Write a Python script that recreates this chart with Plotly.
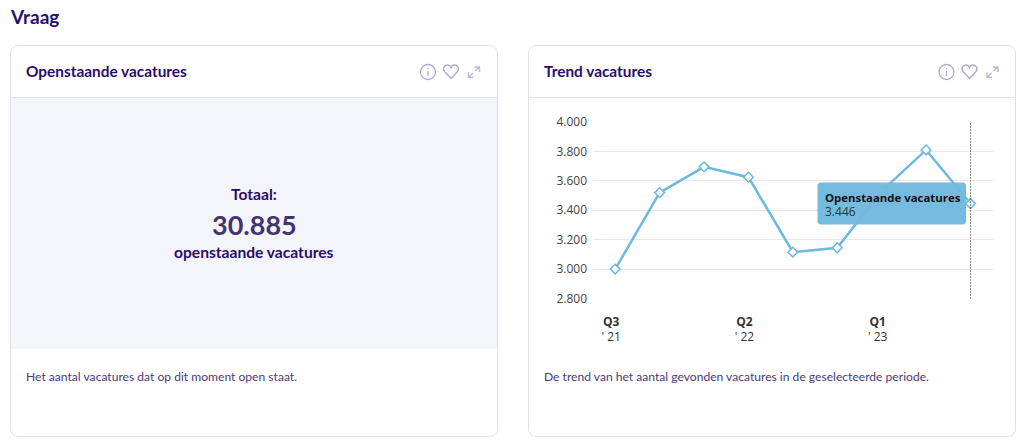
import plotly.graph_objects as go

W, H = 1024, 447

# one point per quarter
quarters = ["Q3 '21", "Q4 '21", "Q1 '22", "Q2 '22", "Q3 '22", "Q4 '22", "Q1 '23", "Q2 '23", "Q3 '23"]
vacatures = [3000, 3520, 3695, 3625, 3115, 3145, 3530, 3810, 3446]
y_ticks = [2800, 3000, 3200, 3400, 3600, 3800, 4000]
x_tick_pos = ["Q3 '21", "Q2 '22", "Q1 '23"]
x_tick_text = ["<b>Q3</b><br>' 21", "<b>Q2</b><br>' 22", "<b>Q1</b><br>' 23"]

TITLE_FONT = "Lato"
CHART_FONT = "Open Sans"
PURPLE = "#2a0e68"
BORDER = "#e1e0ee"
BLUE = "#6cb9df"
ICON = "#b1aeca"


def px(x):
    return x / W


def py(y):
    return 1 - y / H


def pt(x, y):
    return f"{px(x):.5f},{py(y):.5f}"


def card_path(x0, y0, x1, y1, r=8):
    k = r * 0.45
    return (
        f"M{pt(x0 + r, y0)} L{pt(x1 - r, y0)} C{pt(x1 - k, y0)} {pt(x1, y0 + k)} {pt(x1, y0 + r)} "
        f"L{pt(x1, y1 - r)} C{pt(x1, y1 - k)} {pt(x1 - k, y1)} {pt(x1 - r, y1)} "
        f"L{pt(x0 + r, y1)} C{pt(x0 + k, y1)} {pt(x0, y1 - k)} {pt(x0, y1 - r)} "
        f"L{pt(x0, y0 + r)} C{pt(x0, y0 + k)} {pt(x0 + k, y0)} {pt(x0 + r, y0)} Z"
    )


def path(d, line=None, fill="rgba(0,0,0,0)", width=1, layer="below"):
    return dict(type="path", xref="paper", yref="paper", path=d, fillcolor=fill,
                line=dict(color=line or "rgba(0,0,0,0)", width=width), layer=layer)


def hline(x0, x1, y, color):
    return dict(type="line", xref="paper", yref="paper", x0=px(x0), x1=px(x1), y0=py(y), y1=py(y),
                line=dict(color=color, width=1), layer="below")


def text(x, y, s, size, color=PURPLE, weight=400, family=TITLE_FONT, anchor="left"):
    return dict(xref="paper", yref="paper", x=px(x), y=py(y), text=s, showarrow=False,
                xanchor=anchor, yanchor="middle", borderpad=0, borderwidth=0,
                font=dict(family=family, size=size, color=color, weight=weight))


def icons(dx):
    # info circle, heart and expand arrows of a card header
    cx, cy, r = 428 + dx, 72, 7.5
    k = r * 0.5523
    circle = (
        f"M{pt(cx - r, cy)} C{pt(cx - r, cy - k)} {pt(cx - k, cy - r)} {pt(cx, cy - r)} "
        f"C{pt(cx + k, cy - r)} {pt(cx + r, cy - k)} {pt(cx + r, cy)} "
        f"C{pt(cx + r, cy + k)} {pt(cx + k, cy + r)} {pt(cx, cy + r)} "
        f"C{pt(cx - k, cy + r)} {pt(cx - r, cy + k)} {pt(cx - r, cy)} Z"
    )
    i_bar = f"M{pt(cx, cy - 1)} L{pt(cx, cy + 4)} M{pt(cx, cy - 4)} L{pt(cx, cy - 2.8)}"
    hx = 451 + dx
    heart = (
        f"M{pt(hx, 78.5)} L{pt(hx - 6.5, 71.5)} C{pt(hx - 9, 68)} {pt(hx - 6, 65)} {pt(hx - 3.5, 65)} "
        f"C{pt(hx - 2, 65)} {pt(hx - 0.5, 66)} {pt(hx, 67.5)} "
        f"C{pt(hx + 0.5, 66)} {pt(hx + 2, 65)} {pt(hx + 3.5, 65)} "
        f"C{pt(hx + 6, 65)} {pt(hx + 9, 68)} {pt(hx + 6.5, 71.5)} Z"
    )
    ax = 468 + dx
    arrows = (
        f"M{pt(ax + 1, 77)} L{pt(ax + 5, 73)} M{pt(ax + 7, 71)} L{pt(ax + 11, 67)} "
        f"M{pt(ax + 6.5, 67)} L{pt(ax + 11.5, 67)} L{pt(ax + 11.5, 72)} "
        f"M{pt(ax + 0.5, 72.5)} L{pt(ax + 0.5, 77.5)} L{pt(ax + 5.5, 77.5)}"
    )
    return [
        path(circle, line=ICON, width=1.3),
        path(i_bar, line=ICON, width=1.3),
        path(heart, line=ICON, width=1.5),
        path(arrows, line="#bdbbd1", width=1.4),
    ]


fig = go.Figure(go.Scatter(
    x=quarters,
    y=vacatures,
    mode="lines+markers",
    line=dict(color=BLUE, width=2.5),
    marker=dict(symbol="diamond", size=7.5, color="white", line=dict(color=BLUE, width=1.5)),
    hoverinfo="skip",
))

shapes = [
    path(card_path(10.5, 45.5, 497.5, 436.5), line=BORDER, fill="white"),
    path(card_path(528.5, 45.5, 1015.5, 436.5), line=BORDER, fill="white"),
    dict(type="rect", xref="paper", yref="paper", x0=px(11), x1=px(497), y0=py(98), y1=py(349),
         fillcolor="#f4f5fa", line_width=0, layer="below"),
    hline(11, 497, 97.5, BORDER),
    hline(529, 1015, 97.5, BORDER),
    # crosshair on the last quarter
    dict(type="line", xref="x", yref="y", x0=quarters[-1], x1=quarters[-1], y0=y_ticks[0], y1=y_ticks[-1],
         line=dict(color="#222222", width=1, dash="1px,2px"), layer="above"),
    path(card_path(817.5, 182.5, 966, 224.5, r=3), fill="rgba(110,185,222,0.96)", layer="above"),
]
shapes += icons(0) + icons(518.5)

value_label = f"{vacatures[-1]:,}".replace(",", ".")

annotations = [
    text(10, 16.5, "Vraag", 19, weight=700),
    text(26, 71, "Openstaande vacatures", 15.4, weight=700),
    text(544, 71, "Trend vacatures", 15.4, weight=700),
    text(254, 194, "Totaal:", 15.6, weight=700, anchor="center"),
    text(254, 224, "30.885", 27, color="#43336e", weight=700, anchor="center"),
    text(254, 252, "openstaande vacatures", 15.6, weight=700, anchor="center"),
    text(26, 376.5, "Het aantal vacatures dat op dit moment open staat.", 12.1, color="#4a3a78"),
    text(544, 376.5, "De trend van het aantal gevonden vacatures in de geselecteerde periode.", 12.1, color="#4a3a78"),
    text(825, 197, "Openstaande vacatures", 11.4, color="#111111", weight=700, family=CHART_FONT),
    text(825, 211.5, value_label, 12, color="#333333", family=CHART_FONT),
]

fig.update_layout(
    width=W,
    height=H,
    margin=dict(l=0, r=0, t=0, b=0),
    paper_bgcolor="white",
    plot_bgcolor="rgba(0,0,0,0)",
    showlegend=False,
    separators=",.",
    shapes=shapes,
    annotations=annotations,
    xaxis=dict(
        domain=[px(593), px(992.7)],
        automargin=False,
        type="category",
        categoryorder="array",
        categoryarray=quarters,
        range=[-0.5, len(quarters) - 0.5],
        tickmode="array",
        tickvals=x_tick_pos,
        ticktext=x_tick_text,
        ticklabelstandoff=14,
        ticklabelshift=-4,
        showgrid=False,
        showline=False,
        zeroline=False,
        ticks="",
        tickangle=0,
        tickfont=dict(family=CHART_FONT, size=12, color="#333333"),
    ),
    yaxis=dict(
        domain=[py(298.5), py(122)],
        automargin=False,
        range=[y_ticks[0], y_ticks[-1]],
        tickmode="array",
        tickvals=y_ticks,
        tickformat=",d",
        ticklabelstandoff=5,
        gridcolor="#e7e7f0",
        gridwidth=1,
        showline=False,
        zeroline=False,
        ticks="",
        tickfont=dict(family=CHART_FONT, size=12, color="#444444"),
    ),
)

fig.write_html("out.html", config={"displayModeBar": False},
               post_script="document.body.style.margin='0';")
